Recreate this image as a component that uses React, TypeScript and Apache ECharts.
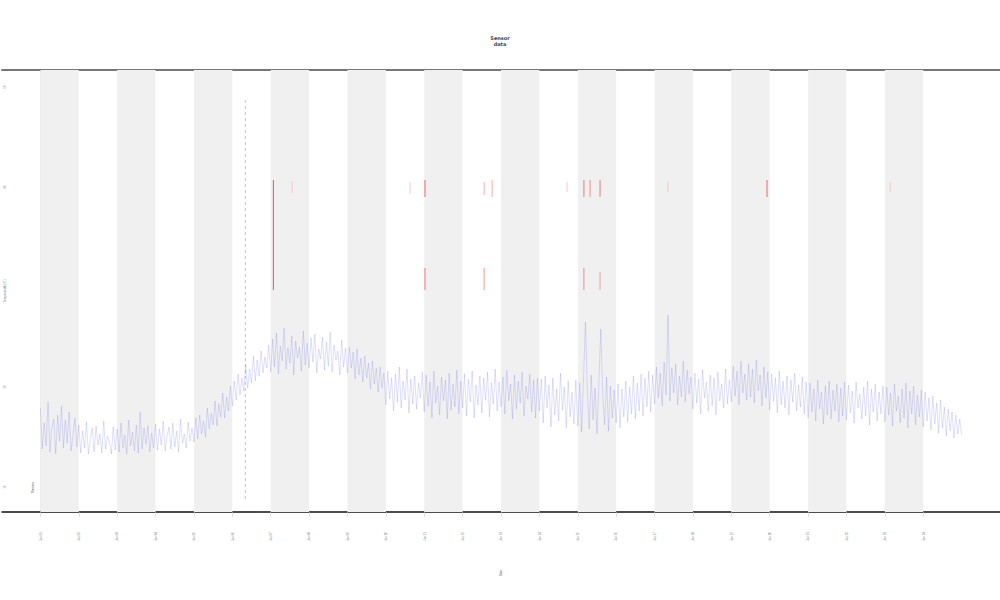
import React, { useEffect, useRef } from "react";
import * as echarts from "echarts";

// Blue series: sampled every 0.05 day (day 0 .. day 24), 20 samples per day
const blueValues: number[] = [
  17.9, 13.8, 16.4, 14.1, 18.5, 13.5, 15.9, 16.8, 13.3, 17.2, 14.6, 18.1, 13.9, 16.7, 14.4, 17.5, 13.6, 15.2, 16.9, 14.0,
  16.2, 13.4, 15.6, 13.9, 16.5, 13.3, 14.8, 15.9, 13.5, 16.1, 14.2, 15.3, 13.4, 16.6, 13.8, 15.1, 14.5, 13.3, 16.0, 13.7,
  15.8, 13.5, 16.4, 13.9, 15.2, 13.3, 16.7, 14.1, 15.5, 13.6, 16.2, 13.4, 17.5, 13.8, 15.9, 14.3, 16.1, 13.5, 15.4, 13.9,
  16.3, 13.7, 15.8, 14.2, 16.6, 13.6, 15.1, 16.0, 13.8, 16.4, 14.0, 15.6, 13.5, 16.8, 14.4, 15.3, 13.9, 16.5, 14.6, 15.9,
  14.5, 16.9, 14.8, 17.2, 15.3, 16.6, 15.0, 17.9, 15.8, 17.4, 16.2, 18.6, 16.1, 18.3, 17.0, 19.4, 16.9, 19.0, 17.6, 20.1,
  18.1, 20.6, 18.7, 21.3, 19.2, 20.9, 19.6, 22.2, 19.9, 21.8, 20.4, 23.1, 20.6, 22.7, 21.1, 23.6, 21.4, 23.0, 21.9, 24.2,
  21.5, 24.8, 22.0, 25.4, 21.3, 24.1, 22.6, 25.9, 21.8, 23.9, 22.4, 25.1, 21.2, 24.6, 22.9, 24.0, 21.6, 25.6, 22.2, 24.4,
  21.9, 24.9, 22.5, 25.3, 21.4, 23.8, 22.8, 25.0, 21.7, 24.5, 22.1, 25.5, 21.5, 24.2, 22.7, 23.6, 21.2, 24.7, 22.0, 23.9,
  21.4, 24.0, 21.9, 23.5, 20.8, 23.8, 21.2, 22.9, 20.5, 23.1, 20.9, 22.4, 19.8, 22.6, 20.3, 21.9, 19.5, 22.0, 19.9, 21.4,
  18.2, 21.6, 18.8, 20.9, 17.6, 21.3, 18.5, 22.0, 17.9, 20.6, 18.7, 21.8, 17.4, 20.8, 18.3, 21.1, 17.8, 20.4, 18.9, 21.5,
  17.5, 21.2, 18.1, 20.5, 16.9, 21.6, 18.4, 20.1, 17.2, 21.0, 18.6, 20.7, 16.8, 21.4, 17.7, 20.3, 18.0, 21.7, 17.3, 20.6,
  17.9, 21.3, 17.1, 20.8, 18.5, 21.6, 16.9, 20.2, 18.2, 21.1, 17.4, 20.9, 18.7, 21.5, 17.0, 20.4, 18.3, 21.8, 17.6, 20.5,
  18.0, 21.0, 17.3, 21.7, 18.6, 20.3, 16.8, 21.2, 17.8, 20.6, 18.4, 21.5, 17.1, 20.1, 18.8, 21.3, 17.5, 20.7, 16.9, 20.9,
  17.6, 20.8, 16.4, 21.1, 17.9, 20.2, 16.0, 20.9, 17.2, 19.8, 16.6, 21.4, 17.7, 20.0, 15.9, 20.6, 17.0, 19.5, 16.3, 20.7,
  16.1, 20.4, 15.5, 20.9, 26.5, 19.6, 15.8, 21.2, 16.7, 19.9, 15.3, 20.5, 25.8, 19.3, 16.2, 21.0, 15.6, 20.1, 16.9, 19.7,
  16.4, 20.3, 15.9, 19.8, 17.0, 20.6, 16.5, 20.0, 17.3, 21.1, 16.8, 20.4, 17.6, 21.3, 17.1, 20.9, 18.0, 21.6, 17.5, 21.2,
  18.3, 22.0, 18.9, 21.4, 18.1, 22.5, 19.2, 27.2, 18.6, 21.9, 19.4, 22.3, 18.2, 21.1, 19.0, 22.6, 18.5, 21.7, 19.3, 21.0,
  17.8, 21.4, 18.4, 20.8, 17.3, 21.7, 18.9, 20.5, 17.6, 21.2, 18.1, 20.9, 17.2, 21.5, 18.6, 20.3, 17.9, 21.8, 18.3, 20.7,
  18.5, 22.1, 19.1, 21.6, 18.2, 22.6, 19.4, 21.3, 18.7, 22.3, 19.0, 21.8, 18.4, 22.7, 19.6, 21.2, 18.1, 22.0, 18.9, 21.5,
  17.7, 21.3, 18.6, 20.9, 17.4, 21.6, 18.2, 20.6, 17.9, 21.1, 17.2, 20.7, 18.5, 21.4, 17.6, 20.2, 18.0, 21.0, 17.3, 20.5,
  16.9, 20.4, 17.5, 19.8, 16.6, 20.7, 17.8, 19.5, 16.3, 20.1, 17.2, 20.6, 16.8, 19.7, 17.6, 20.3, 16.5, 19.9, 17.1, 20.5,
  16.7, 20.2, 17.4, 19.6, 16.4, 20.5, 17.9, 19.3, 16.8, 20.0, 17.1, 20.6, 16.2, 19.8, 17.5, 20.3, 16.6, 19.5, 17.3, 20.1,
  16.5, 20.0, 17.2, 19.4, 16.1, 20.3, 17.6, 19.1, 16.4, 19.8, 16.9, 20.4, 15.9, 19.6, 17.3, 20.1, 16.2, 19.2, 17.0, 19.7,
  16.0, 19.5, 16.6, 18.9, 15.7, 19.1, 16.3, 18.4, 15.4, 18.7, 15.9, 18.0, 15.1, 17.8, 15.6, 17.5, 14.9, 17.2, 15.3, 16.8, 15.2,
];
const sampleStep = 0.05;

// Night shading: start day of each shaded band (1 day wide)
const bandStarts: number[] = [0, 2, 4, 6, 8, 10, 12, 14, 16, 18, 20, 22];

// Red flagged spikes: [day, top, bottom, opacity]
const redSpikes: number[][] = [
  [6.07, 40.7, 29.7, 0.8],
  [6.56, 40.6, 39.4, 0.2],
  [9.63, 40.5, 39.3, 0.25],
  [10.02, 40.7, 39.0, 0.7],
  [10.02, 31.9, 29.7, 0.6],
  [11.56, 40.5, 39.2, 0.4],
  [11.56, 31.9, 29.7, 0.5],
  [11.77, 40.7, 39.0, 0.4],
  [13.72, 40.5, 39.5, 0.25],
  [14.16, 40.7, 39.0, 0.6],
  [14.16, 31.9, 29.7, 0.5],
  [14.32, 40.7, 39.0, 0.5],
  [14.58, 40.7, 39.0, 0.6],
  [14.58, 31.5, 29.7, 0.4],
  [16.35, 40.5, 39.5, 0.2],
  [18.93, 40.7, 39.0, 0.7],
  [22.14, 40.5, 39.5, 0.2],
];

// Event marker (dashed vertical)
const eventDay = 5.34;
const eventRange: number[] = [48.7, 8.7];

const xTicks: number[] = [0, 1, 2, 3, 4, 5, 6, 7, 8, 9, 10, 11, 12, 13, 14, 15, 16, 17, 18, 19, 20, 21, 22, 23];
const xTickLabels: string[] = [
  "Jun 01", "Jun 02", "Jun 03", "Jun 04", "Jun 05", "Jun 06", "Jun 07", "Jun 08",
  "Jun 09", "Jun 10", "Jun 11", "Jun 12", "Jun 13", "Jun 14", "Jun 15", "Jun 16",
  "Jun 17", "Jun 18", "Jun 19", "Jun 20", "Jun 21", "Jun 22", "Jun 23", "Jun 24",
];
const yTicks: number[] = [10, 20, 30, 40, 50];
const yAxisTitle = "Temperature (°C)";

export default function App() {
  const ref = useRef<HTMLDivElement>(null);
  useEffect(() => {
    if (!ref.current) return;
    const chart = echarts.init(ref.current, null, { renderer: "svg" });
    const blueData = blueValues.map((v, i) => [i * sampleStep, v]);
    const option: any = {
      animation: false,
      backgroundColor: "#ffffff",
      title: {
        text: "Sensor\ndata",
        left: "center",
        top: 30,
        textStyle: { fontSize: 5, fontWeight: "bold", color: "#444", lineHeight: 6, fontFamily: "DejaVu Sans" },
      },
      grid: { left: 2, right: 0, top: 70, bottom: 88, containLabel: false, outerBoundsMode: "none" },
      xAxis: [
        {
          type: "value",
          min: -1,
          max: 25,
          position: "bottom",
          name: "Date",
          nameLocation: "middle",
          nameGap: 58,
          nameRotate: 90,
          nameTextStyle: { fontSize: 3, color: "#666" },
          axisLine: { show: true, lineStyle: { color: "#111", width: 1.5 } },
          axisTick: { show: true, length: 5, customValues: xTicks, lineStyle: { color: "#ccc", width: 0.6 } },
          axisLabel: {
            customValues: xTicks,
            rotate: 90,
            fontSize: 3,
            color: "#777",
            margin: 20,
            formatter: (v: number) => {
              const i = xTicks.indexOf(Math.round(v));
              return i >= 0 ? xTickLabels[i] : "";
            },
          },
          splitLine: { show: false },
        },
        {
          type: "value",
          min: -1,
          max: 25,
          position: "top",
          axisLine: { show: true, lineStyle: { color: "#777", width: 2 } },
          axisTick: { show: false },
          axisLabel: { show: false },
          splitLine: { show: false },
        },
      ],
      yAxis: {
        type: "value",
        min: 7.5,
        max: 51.7,
        axisLine: { show: true, lineStyle: { color: "#e6e6e6", width: 1 } },
        axisTick: { show: false },
        axisLabel: {
          customValues: yTicks,
          inside: true,
          rotate: 90,
          fontSize: 3,
          color: "#999",
          margin: 1,
        },
        splitLine: { show: false },
      },
      series: [
        {
          type: "line",
          data: [],
          silent: true,
          markArea: {
            silent: true,
            itemStyle: { color: "#f0f0f0" },
            data: bandStarts.map((s) => [{ xAxis: s }, { xAxis: s + 1 }]),
          },
        },
        {
          type: "line",
          data: [
            [eventDay, eventRange[0]],
            [eventDay, eventRange[1]],
          ],
          showSymbol: false,
          lineStyle: { color: "#aaa", width: 0.7, type: [3, 3] },
          z: 3,
        },
        {
          type: "line",
          data: blueData,
          showSymbol: false,
          lineStyle: { color: "rgba(95,95,235,0.4)", width: 0.5 },
          z: 4,
        },
        {
          type: "custom",
          data: redSpikes,
          encode: { x: 0, y: [1, 2] },
          z: 5,
          renderItem: (params: any, api: any) => {
            const p1 = api.coord([api.value(0), api.value(1)]);
            const p2 = api.coord([api.value(0), api.value(2)]);
            return {
              type: "line",
              shape: { x1: p1[0], y1: p1[1], x2: p2[0], y2: p2[1] },
              style: { stroke: "rgba(235,45,45," + api.value(3) + ")", lineWidth: 1 },
            };
          },
        },
      ],
      graphic: [
        {
          type: "text",
          x: 3,
          y: 291,
          rotation: Math.PI / 2,
          style: { text: yAxisTitle, fontSize: 3, fill: "#888", align: "center", verticalAlign: "top" },
        },
        {
          type: "text",
          x: 30,
          y: 493,
          rotation: Math.PI / 2,
          style: { text: "Series", fontSize: 4, fill: "#555" },
        },
      ],
    };
    chart.setOption(option);
    return () => chart.dispose();
  }, []);
  return (
    <div
      ref={ref}
      style={{ position: "fixed", left: 0, top: 0, width: 1000, height: 600 }}
    />
  );
}
